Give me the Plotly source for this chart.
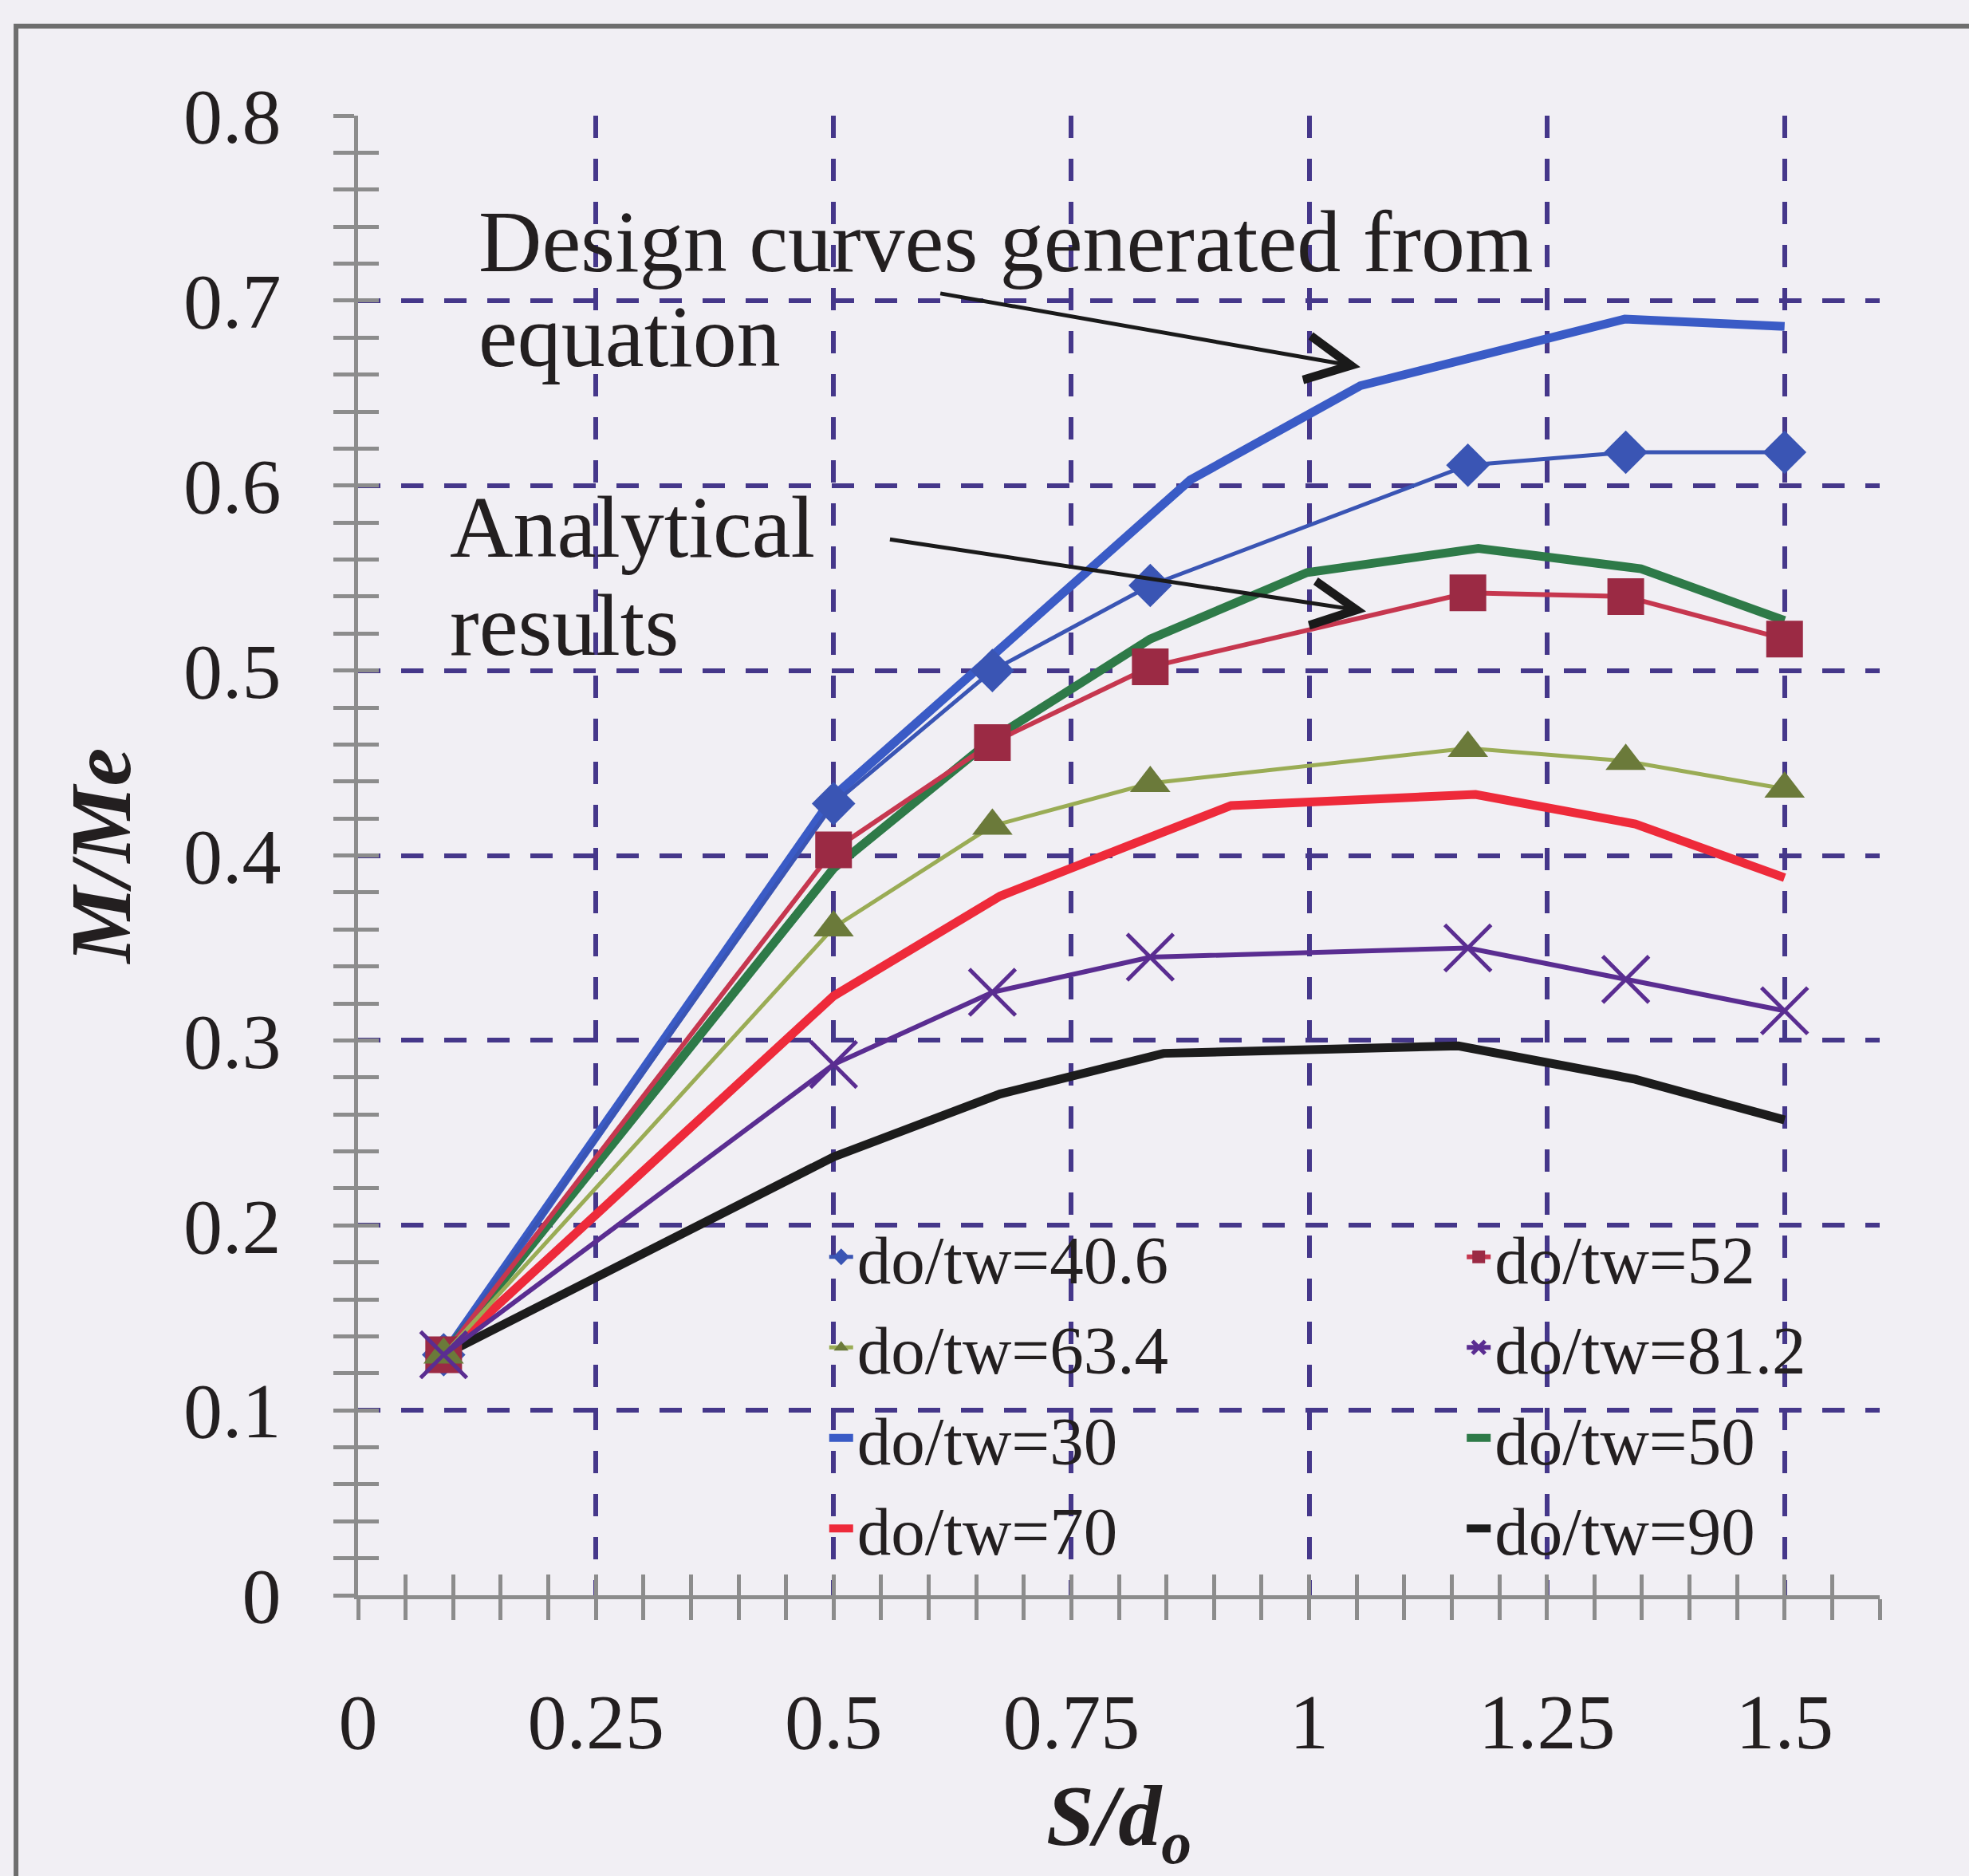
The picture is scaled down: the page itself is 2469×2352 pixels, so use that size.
import plotly.graph_objects as go

# ---------------- data ----------------
x_analytic = [0.09, 0.5, 0.667, 0.833, 1.167, 1.333, 1.5]
y_40_6 = [0.13, 0.428, 0.500, 0.546, 0.611, 0.618, 0.618]
y_52 = [0.13, 0.403, 0.461, 0.502, 0.542, 0.540, 0.517]
y_63_4 = [0.13, 0.361, 0.416, 0.439, 0.458, 0.451, 0.436]
y_81_2 = [0.13, 0.287, 0.326, 0.345, 0.350, 0.333, 0.316]

x_30 = [0.09, 0.5, 0.667, 0.875, 1.054, 1.332, 1.5]
y_30 = [0.13, 0.432, 0.508, 0.603, 0.654, 0.690, 0.686]
x_50 = [0.09, 0.5, 0.667, 0.833, 0.998, 1.178, 1.349, 1.5]
y_50 = [0.13, 0.393, 0.463, 0.517, 0.553, 0.566, 0.555, 0.527]
x_70 = [0.09, 0.5, 0.675, 0.918, 1.175, 1.343, 1.5]
y_70 = [0.13, 0.324, 0.378, 0.427, 0.433, 0.417, 0.388]
x_90 = [0.09, 0.5, 0.675, 0.847, 1.157, 1.343, 1.5]
y_90 = [0.13, 0.237, 0.271, 0.293, 0.297, 0.279, 0.257]

x_ticks = [0, 0.25, 0.5, 0.75, 1, 1.25, 1.5]
x_ticklabels = ["0", "0.25", "0.5", "0.75", "1", "1.25", "1.5"]
y_ticks = [0, 0.1, 0.2, 0.3, 0.4, 0.5, 0.6, 0.7, 0.8]
y_ticklabels = ["0", "0.1", "0.2", "0.3", "0.4", "0.5", "0.6", "0.7", "0.8"]

# ---------------- style ----------------
FONT = "Liberation Serif, Times New Roman, serif"
TXT = "#231f20"
BG = "#f1eff4"
AXC = "#8c8c8c"
GRIDC = "#45378a"

fig = go.Figure()

# design curves (thick lines)
design = [
    ("do/tw=30", x_30, y_30, "#3a5bc6", "legend", 3),
    ("do/tw=50", x_50, y_50, "#2e7a48", "legend2", 3),
    ("do/tw=70", x_70, y_70, "#ee2a3a", "legend", 4),
    ("do/tw=90", x_90, y_90, "#1c1c1c", "legend2", 4),
]
for name, xs, ys, col, leg, rank in design:
    fig.add_trace(go.Scatter(x=xs, y=ys, name=name, mode="lines",
                             line=dict(color=col, width=11),
                             legend=leg, legendrank=rank))

# analytical results (thin lines with markers)
analytic = [
    ("do/tw=40.6", y_40_6, "#3a55b4", "#3a55b4", "diamond", 42, 5, "legend", 1),
    ("do/tw=52", y_52, "#c6374f", "#9b2a44", "square", 46, 6, "legend2", 1),
    ("do/tw=63.4", y_63_4, "#9aac55", "#6b7a3a", "triangle-up", 44, 5, "legend", 2),
    ("do/tw=81.2", y_81_2, "#5a2d91", "#5a2d91", "x-thin", 58, 6, "legend2", 2),
]
for name, ys, lcol, mcol, sym, size, lw, leg, rank in analytic:
    marker = dict(symbol=sym, size=size, color=mcol)
    if sym == "x-thin":
        marker["line"] = dict(color=mcol, width=5)
    fig.add_trace(go.Scatter(x=x_analytic, y=ys, name=name, mode="lines+markers",
                             line=dict(color=lcol, width=lw), marker=marker,
                             legend=leg, legendrank=rank))

# invisible trace carrying the overlay axes that draw the inner half of the ticks
fig.add_trace(go.Scatter(x=[None], y=[None], xaxis="x2", yaxis="y2",
                         showlegend=False, hoverinfo="skip"))

tickfont = dict(family=FONT, size=98, color=TXT)
common_tick = dict(ticklen=26, tickwidth=5, tickcolor=AXC)
grid = dict(showgrid=True, gridcolor=GRIDC, gridwidth=6, griddash="28px,26px")

fig.update_layout(
    width=2469, height=2352,
    margin=dict(l=449, r=112, t=145, b=352, autoexpand=False),
    paper_bgcolor=BG, plot_bgcolor=BG,
    font=dict(family=FONT, color=TXT),
    xaxis=dict(range=[0, 1.6], tickmode="array", tickvals=x_ticks, ticktext=x_ticklabels,
               ticks="outside", **common_tick,
               minor=dict(dtick=0.05, tick0=0, ticks="outside", ticklen=26, tickwidth=5, tickcolor=AXC, showgrid=False),
               showline=True, linecolor=AXC, linewidth=5, zeroline=False, **grid,
               tickfont=tickfont, ticklabelstandoff=43,
               title=dict(text="<b><i>S/d<sub>o</sub></i></b>", font=dict(family=FONT, size=108, color=TXT), standoff=50),
               automargin=False),
    yaxis=dict(range=[0, 0.8], tickmode="array", tickvals=y_ticks, ticktext=y_ticklabels,
               ticks="outside", **common_tick,
               minor=dict(dtick=0.02, tick0=0, ticks="outside", ticklen=26, tickwidth=5, tickcolor=AXC, showgrid=False),
               showline=True, linecolor=AXC, linewidth=5, zeroline=False, **grid,
               tickfont=tickfont, ticklabelstandoff=46,
               title=dict(text="<b><i>M/Me</i></b>", font=dict(family=FONT, size=108, color=TXT), standoff=32),
               automargin=False),
    xaxis2=dict(range=[0, 1.6], overlaying="x", anchor="y2", side="bottom",
                tickmode="array", tickvals=x_ticks, ticks="inside", **common_tick,
                minor=dict(dtick=0.05, tick0=0, ticks="inside", ticklen=26, tickwidth=5, tickcolor=AXC, showgrid=False),
                showticklabels=False, showgrid=False, showline=False, zeroline=False),
    yaxis2=dict(range=[0, 0.8], overlaying="y", anchor="x2", side="left",
                tickmode="array", tickvals=y_ticks, ticks="inside", **common_tick,
                minor=dict(dtick=0.02, tick0=0, ticks="inside", ticklen=26, tickwidth=5, tickcolor=AXC, showgrid=False),
                showticklabels=False, showgrid=False, showline=False, zeroline=False),
    legend=dict(x=0.307, y=0.262, xanchor="left", yanchor="top", bgcolor="rgba(0,0,0,0)",
                font=dict(family=FONT, size=85, color=TXT), tracegroupgap=0, traceorder="normal"),
    legend2=dict(x=0.726, y=0.262, xanchor="left", yanchor="top", bgcolor="rgba(0,0,0,0)",
                 font=dict(family=FONT, size=85, color=TXT), tracegroupgap=0, traceorder="normal"),
    showlegend=True,
)

annot_font = dict(family=FONT, size=110, color=TXT)
texts = [
    ("Design curves generated from", 0.125, 0.732),
    ("equation", 0.125, 0.6805),
    ("Analytical", 0.095, 0.5774),
    ("results", 0.095, 0.5244),
]
for t, x, y in texts:
    fig.add_annotation(text=t, x=x, y=y, xref="x", yref="y", xanchor="left", yanchor="middle",
                       showarrow=False, font=annot_font)

arrows = [
    (1.054, 0.664, 0.611, 0.704),
    (1.060, 0.532, 0.558, 0.571),
]
for x, y, ax, ay in arrows:
    fig.add_annotation(x=x, y=y, ax=ax, ay=ay, xref="x", yref="y", axref="x", ayref="y",
                       text="", showarrow=True, arrowhead=5, arrowsize=2.2, arrowwidth=5,
                       arrowcolor="#1a1a1a", standoff=0)

# outer frame of the figure (left and top edges visible)
fig.add_shape(type="rect", xref="paper", yref="paper", x0=-0.2248, y0=-0.3, x1=1.2, y1=1.0605,
              line=dict(color="#6e6e6e", width=6), layer="below")

fig.write_html("out.html")
